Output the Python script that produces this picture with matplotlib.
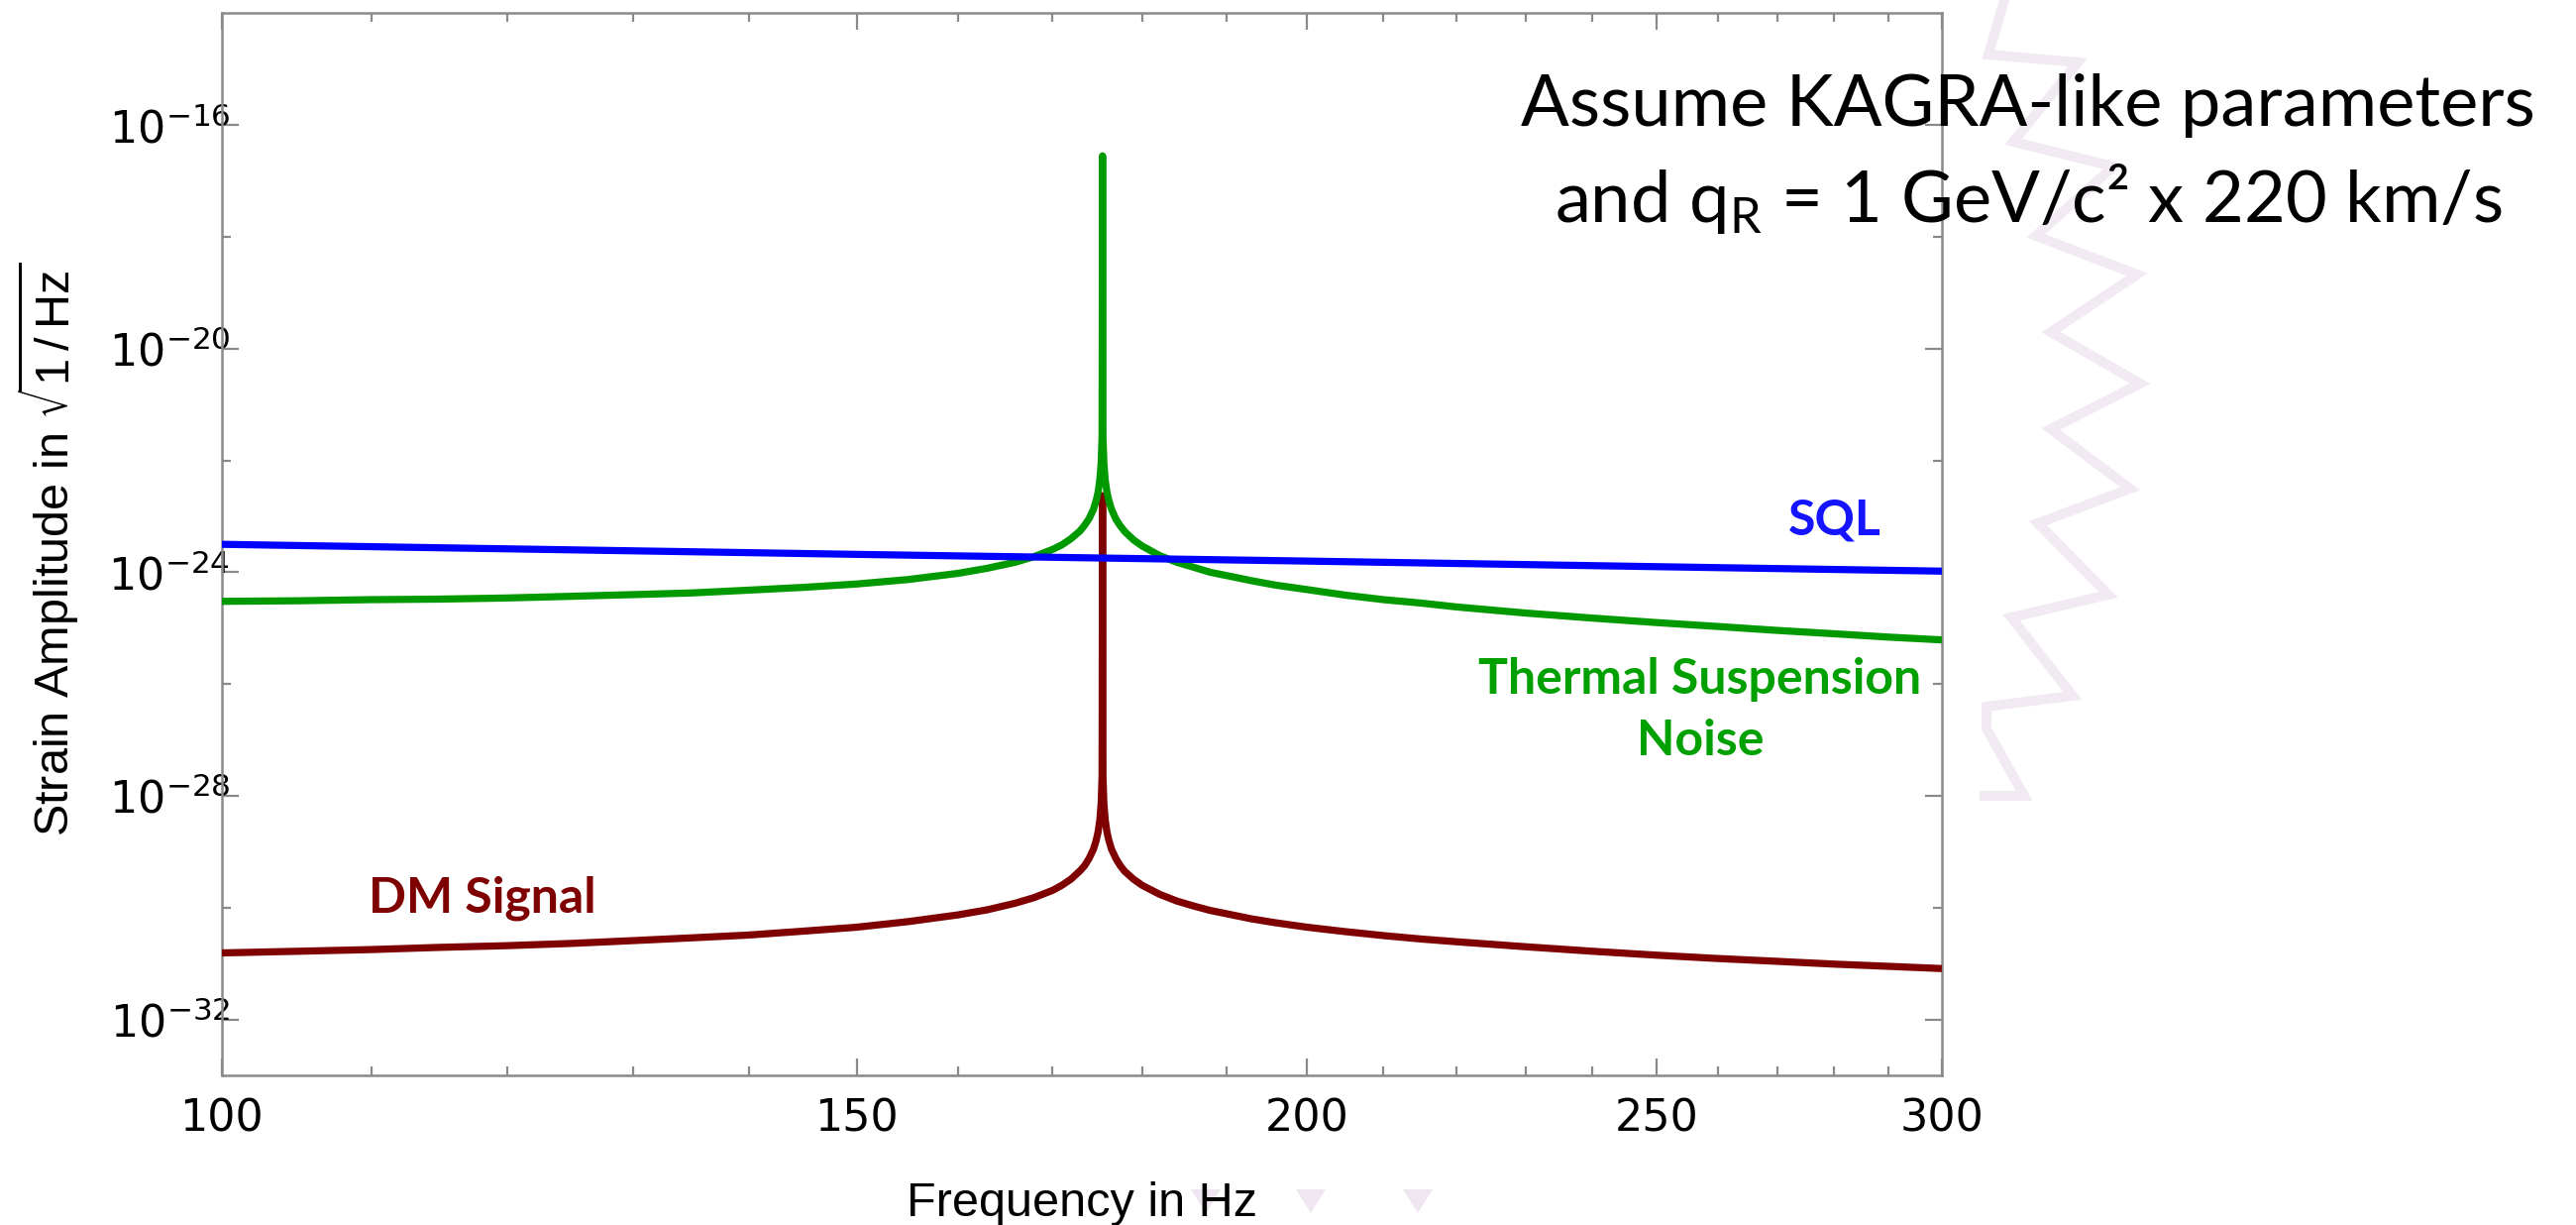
import numpy as np
import matplotlib
matplotlib.use("Agg")
import matplotlib.pyplot as plt
from matplotlib.ticker import FixedLocator, FixedFormatter, NullFormatter
from matplotlib.lines import Line2D
from matplotlib.patches import Polygon

# ---------------- data ----------------
freq = [100, 105, 110, 115, 120, 125, 130, 135, 140, 145, 150, 155, 160,
        163, 166, 168, 170, 171, 172, 173, 173.5, 174, 174.5, 174.8, 175,
        175.2, 175.35, 175.45,
        175.5,
        175.55, 175.65, 175.8, 176, 176.2, 176.5, 177, 177.5, 178, 179, 180,
        182, 184, 186, 188, 190, 193, 196, 200, 205, 210, 215, 220, 230, 240,
        250, 260, 270, 280, 290, 300]
thermal_log10 = [-24.52, -24.51, -24.49, -24.48, -24.46, -24.43, -24.40, -24.37,
                 -24.32, -24.27, -24.21, -24.13, -24.02,
                 -23.93, -23.82, -23.72, -23.59, -23.51, -23.40, -23.26, -23.16,
                 -23.04, -22.87, -22.71, -22.57, -22.34, -22.04, -21.57,
                 -16.55,
                 -21.57, -22.04, -22.35, -22.57, -22.71, -22.87, -23.05, -23.17,
                 -23.27, -23.42, -23.53, -23.70, -23.82, -23.91, -24.00, -24.06,
                 -24.15, -24.23, -24.31, -24.41, -24.49, -24.55, -24.62, -24.73,
                 -24.82, -24.90, -24.97, -25.04, -25.10, -25.16, -25.21]
dm_log10 = [-30.81, -30.78, -30.75, -30.71, -30.68, -30.64, -30.59, -30.54,
            -30.49, -30.42, -30.35, -30.25, -30.13,
            -30.04, -29.92, -29.82, -29.69, -29.60, -29.49, -29.34, -29.25,
            -29.12, -28.95, -28.79, -28.65, -28.43, -28.12, -27.65,
            -22.63,
            -27.65, -28.13, -28.43, -28.65, -28.79, -28.95, -29.12, -29.25,
            -29.35, -29.49, -29.60, -29.76, -29.88, -29.97, -30.05, -30.11,
            -30.20, -30.27, -30.35, -30.43, -30.50, -30.56, -30.61, -30.70,
            -30.78, -30.85, -30.91, -30.96, -31.01, -31.05, -31.09]
sql_freq = [100, 150, 200, 250, 300]
sql_log10 = [-23.50, -23.68, -23.80, -23.90, -23.98]

x_major = [100, 150, 200, 250, 300]
x_major_labels = ["100", "150", "200", "250", "300"]
x_minor = [110, 120, 130, 140, 160, 170, 180, 190, 210, 220, 230, 240,
           260, 270, 280, 290]
y_major = [1e-32, 1e-28, 1e-24, 1e-20, 1e-16]
y_major_labels = [r"$\mathregular{10^{-32}}$", r"$\mathregular{10^{-28}}$",
                  r"$\mathregular{10^{-24}}$", r"$\mathregular{10^{-20}}$",
                  r"$\mathregular{10^{-16}}$"]
y_minor = [1e-30, 1e-26, 1e-22, 1e-18]

xlabel = r"Frequency in Hz"
ylabel = r"Strain Amplitude in $\sqrt{\mathregular{1\,/\,Hz}}$"
note_line1 = "Assume KAGRA-like parameters"
note_line2 = r"and q$_\mathregular{R}$ = 1 GeV/c² x 220 km/s"

assert len(freq) == len(thermal_log10) == len(dm_log10)

# ---------------- figure ----------------
W, H = 2600, 1236
DPI = 200
fig = plt.figure(figsize=(W / DPI, H / DPI), dpi=DPI)
fig.patch.set_facecolor("white")

def fx(px):
    return px / W

def fy(py):
    return 1 - py / H

# faint slide decoration (background zig-zag and triangles)
zig_px = [(2023, 0), (2007, 55), (2097, 63), (2032, 143), (2133, 168),
          (2055, 238), (2157, 277), (2070, 335), (2160, 387), (2070, 433),
          (2150, 493), (2057, 528), (2128, 600), (2030, 623), (2092, 702),
          (2005, 713), (2005, 735), (2043, 803), (2003, 803)]
fig.add_artist(Line2D([fx(p[0]) for p in zig_px], [fy(p[1]) for p in zig_px],
                      transform=fig.transFigure, color="#f2eaf3", lw=3.6,
                      solid_joinstyle="miter", zorder=0))
for cx in (1217, 1323, 1431):
    tri = [(fx(cx - 15), fy(1200)), (fx(cx + 15), fy(1200)), (fx(cx), fy(1224))]
    fig.add_artist(Polygon(tri, closed=True, transform=fig.transFigure,
                           facecolor="#efe6f2", edgecolor="none", zorder=0))

ax = fig.add_axes([fx(224), fy(1085), fx(1960) - fx(224), fy(13.4) - fy(1085)])
ax.set_facecolor("none")

ax.plot(freq, 10.0 ** np.array(dm_log10), color="#7f0000", lw=2.6,
        solid_capstyle="butt", zorder=3)
ax.plot(freq, 10.0 ** np.array(thermal_log10), color="#009900", lw=2.6,
        solid_capstyle="butt", zorder=4)
ax.plot(sql_freq, 10.0 ** np.array(sql_log10), color="#0000ff", lw=2.6,
        solid_capstyle="butt", zorder=5)

ax.set_xscale("log")
ax.set_yscale("log")
ax.set_xlim(100, 300)
ax.set_ylim(1e-33, 1e-14)

ax.xaxis.set_major_locator(FixedLocator(x_major))
ax.xaxis.set_major_formatter(FixedFormatter(x_major_labels))
ax.xaxis.set_minor_locator(FixedLocator(x_minor))
ax.xaxis.set_minor_formatter(NullFormatter())
ax.yaxis.set_major_locator(FixedLocator(y_major))
ax.yaxis.set_major_formatter(FixedFormatter(y_major_labels))
ax.yaxis.set_minor_locator(FixedLocator(y_minor))
ax.yaxis.set_minor_formatter(NullFormatter())

spine_col = "#8a8a8a"
for s in ax.spines.values():
    s.set_color(spine_col)
    s.set_linewidth(0.9)

ax.tick_params(which="both", direction="in", top=True, right=True,
               color=spine_col, width=0.8)
ax.tick_params(which="major", length=6.2)
ax.tick_params(which="minor", length=3.2)
ax.tick_params(axis="x", which="major", pad=8)
ax.tick_params(axis="y", which="major", pad=-3)
for lab in ax.get_xticklabels() + ax.get_yticklabels():
    lab.set_family("DejaVu Sans")
    lab.set_fontsize(16)
    lab.set_color("black")

ax.set_xlabel(xlabel, family="Liberation Sans", fontsize=17.5)
ax.xaxis.label.set_va("baseline")
ax.xaxis.set_label_coords(0.5, (1085 - 1227) / (1085 - 13.4))
ax.set_ylabel(ylabel, family="Liberation Sans", fontsize=17.5)
ax.yaxis.label.set_va("baseline")
ax.yaxis.set_label_coords((70 - 224) / 1736, 0.495)

# curve labels
bold = dict(family="Lato", fontweight="bold", ha="center", va="center")
fig.text(fx(1852), fy(525), "SQL", color="#1414ff", fontsize=18, **bold)
fig.text(fx(1716), fy(686), "Thermal Suspension", color="#00a000", fontsize=18, **bold)
fig.text(fx(1716), fy(748), "Noise", color="#00a000", fontsize=18, **bold)
fig.text(fx(487), fy(906), "DM Signal", color="#7f0000", fontsize=18, **bold)

# note
fig.text(fx(2047), fy(127), note_line1, family="Lato", fontsize=26,
         ha="center", va="baseline", color="black")
fig.text(fx(2047), fy(224), note_line2, family="Lato", fontsize=26,
         ha="center", va="baseline", color="black")

fig.savefig("out.png", dpi=DPI, facecolor="white")
